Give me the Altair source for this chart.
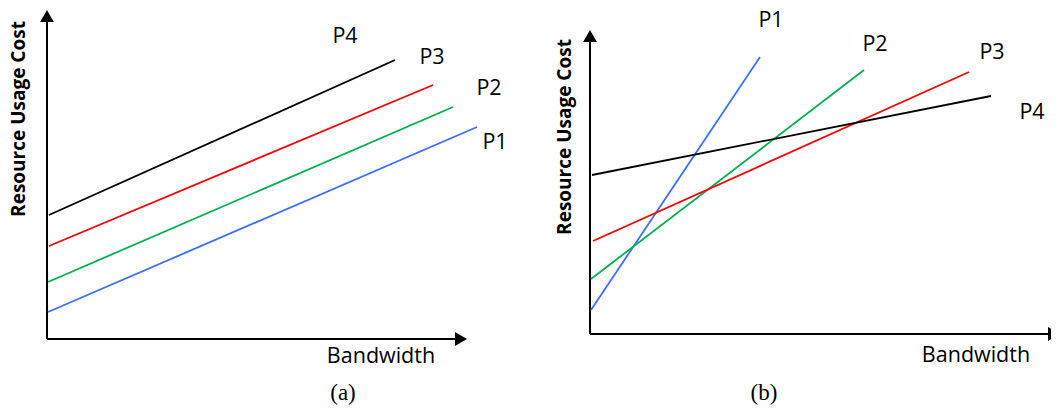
import altair as alt
import pandas as pd

# ---------------- data (units measured from each panel's axis origin) ----------------
series = ["P1", "P2", "P3", "P4"]
colors = ["#3d6fff", "#00b050", "#ff0000", "#000000"]

# panel (a): parallel lines
a_x0 = [1, 1, 2, 2]
a_y0 = [27, 57, 93, 124]
a_x1 = [430, 406, 386, 348]
a_y1 = [212, 232, 254, 279]
a_lab_x = [448, 442, 385, 298]
a_lab_y = [196, 250, 281, 302]

# panel (b): crossing lines
b_x0 = [1, 1, 3, 2]
b_y0 = [24, 55, 93, 159]
b_x1 = [170, 274, 379, 401]
b_y1 = [277, 264, 262, 238]
b_lab_x = [181, 285, 402, 442]
b_lab_y = [313, 289, 281, 221]

# axis extents (arrow line end, arrow head centre)
a_axis = {"x_end": 412, "x_head": 414, "y_end": 320, "y_head": 323}
b_axis = {"x_end": 462, "x_head": 464, "y_end": 296, "y_head": 298}

a_texts = {"xtitle": (334, -18), "ytitle": (-28, 220), "cap": (296, -54), "caption": "(a)"}
b_texts = {"xtitle": (386, -22), "ytitle": (-25, 197), "cap": (174, -59), "caption": "(b)"}

a_domain = {"x": [-39, 483], "y": [-61, 331], "w": 522}
b_domain = {"x": [-60, 461], "y": [-66, 326], "w": 521}

H = 392
SANS = "Open Sans"


def text_layer(x, y, t, xs, ys, **kw):
    df = pd.DataFrame({"x": [x], "y": [y], "t": [t]})
    return alt.Chart(df).mark_text(color="black", **kw).encode(
        x=alt.X("x:Q", scale=xs, axis=None), y=alt.Y("y:Q", scale=ys, axis=None), text="t:N"
    )


def panel(x0, y0, x1, y1, lx, ly, axis, texts, dom):
    xs = alt.Scale(domain=dom["x"], nice=False, zero=False)
    ys = alt.Scale(domain=dom["y"], nice=False, zero=False)
    rows = []
    for i, s in enumerate(series):
        rows.append({"s": s, "x": x0[i], "y": y0[i], "o": 0})
        rows.append({"s": s, "x": x1[i], "y": y1[i], "o": 1})
    ldf = pd.DataFrame(rows)
    color = alt.Color("s:N", scale=alt.Scale(domain=series, range=colors), legend=None)
    lines = alt.Chart(ldf).mark_line(strokeWidth=1.8).encode(
        x=alt.X("x:Q", scale=xs, axis=None),
        y=alt.Y("y:Q", scale=ys, axis=None),
        order="o:Q",
        color=color,
    )
    lab = pd.DataFrame({"s": series, "x": lx, "y": ly})
    labels = alt.Chart(lab).mark_text(font=SANS, fontSize=21.5, color="black").encode(
        x=alt.X("x:Q", scale=xs, axis=None), y=alt.Y("y:Q", scale=ys, axis=None), text="s:N"
    )
    ax_df = pd.DataFrame({
        "x": [0, 0], "y": [0, 0],
        "x2": [axis["x_end"], 0], "y2": [0, axis["y_end"]],
    })
    axes = alt.Chart(ax_df).mark_rule(color="black", strokeWidth=2, clip=True).encode(
        x=alt.X("x:Q", scale=xs, axis=None), y=alt.Y("y:Q", scale=ys, axis=None), x2="x2:Q", y2="y2:Q"
    )
    hx = alt.Chart(pd.DataFrame({"x": [axis["x_head"]], "y": [0]})).mark_point(
        filled=True, color="black", size=190, opacity=1, shape="triangle-right", clip=True
    ).encode(x=alt.X("x:Q", scale=xs, axis=None), y=alt.Y("y:Q", scale=ys, axis=None))
    hy = alt.Chart(pd.DataFrame({"x": [0], "y": [axis["y_head"]]})).mark_point(
        filled=True, color="black", size=190, opacity=1, shape="triangle-up", clip=True
    ).encode(x=alt.X("x:Q", scale=xs, axis=None), y=alt.Y("y:Q", scale=ys, axis=None))
    xt = text_layer(texts["xtitle"][0], texts["xtitle"][1], "Bandwidth", xs, ys, font=SANS, fontSize=21.5)
    yt = text_layer(texts["ytitle"][0], texts["ytitle"][1], "Resource Usage Cost", xs, ys,
                    font=SANS, fontSize=19, fontWeight="bold", angle=270)
    cap = text_layer(texts["cap"][0], texts["cap"][1], texts["caption"], xs, ys,
                     font="Liberation Serif", fontSize=23)
    return alt.layer(axes, hx, hy, lines, labels, xt, yt, cap).properties(width=dom["w"], height=H)


pa = panel(a_x0, a_y0, a_x1, a_y1, a_lab_x, a_lab_y, a_axis, a_texts, a_domain)
pb = panel(b_x0, b_y0, b_x1, b_y1, b_lab_x, b_lab_y, b_axis, b_texts, b_domain)

chart = alt.hconcat(pa, pb, spacing=0).properties(padding=0).configure_view(stroke=None)

chart.save("out.html", embed_options={"renderer": "svg", "actions": False})
